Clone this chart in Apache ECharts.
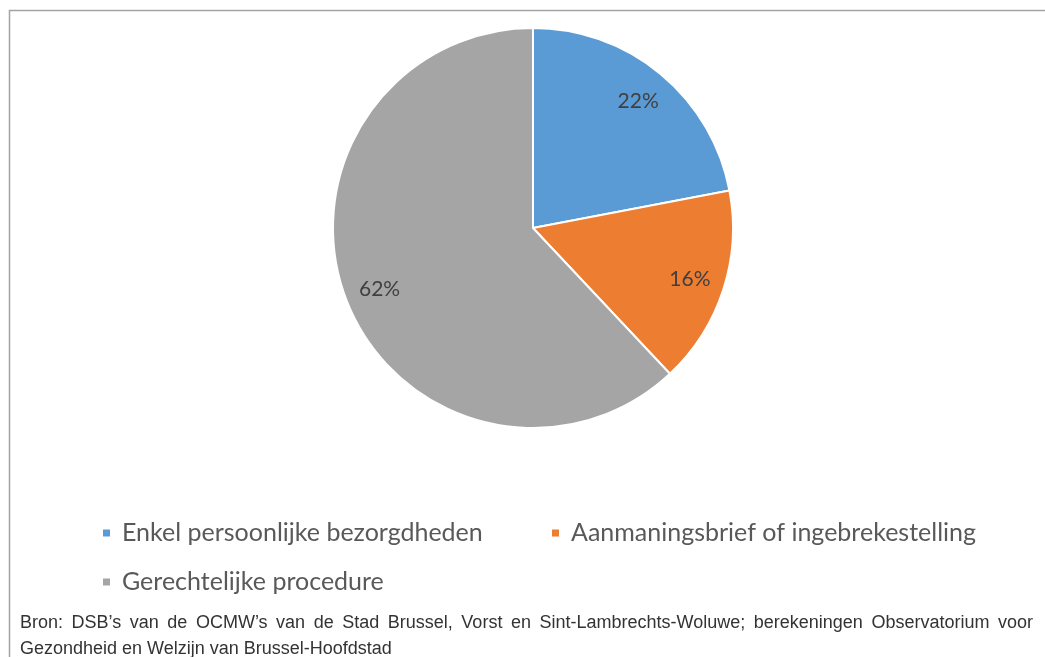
<!DOCTYPE html>
<html>
<head>
<meta charset="utf-8">
<script src="https://cdn.jsdelivr.net/npm/echarts@6/dist/echarts.min.js"></script>
<style>
  html, body { margin: 0; padding: 0; background: #fff; }
  #chart { position: absolute; left: 0; top: 0; width: 1045px; height: 657px; }
  #bron {
    position: absolute; left: 20px; top: 609px; width: 1013px;
    font-family: "Liberation Sans", Arial, sans-serif; font-size: 18px;
    line-height: 26px; color: #333;
  }
  #bron .l1 { text-align: justify; text-align-last: justify; }
</style>
</head>
<body>
<div id="chart"></div>
<div id="bron">
  <div class="l1">Bron: DSB’s van de OCMW’s van de Stad Brussel, Vorst en Sint-Lambrechts-Woluwe; berekeningen Observatorium voor</div>
  <div>Gezondheid en Welzijn van Brussel-Hoofdstad</div>
</div>
<script>
// categorieen en aandelen (%)
var categories = ['Enkel persoonlijke bezorgdheden', 'Aanmaningsbrief of ingebrekestelling', 'Gerechtelijke procedure']
var shares = [22, 16, 62]
var colors = ['#5B9BD5', '#ED7D31', '#A5A5A5']

var pieData = categories.map(function (name, i) {
  return { name: name, value: shares[i], itemStyle: { color: colors[i] } }
})

var legendText = {
  fontFamily: 'Lato, "Open Sans", sans-serif',
  fontSize: 25,
  color: '#595959',
  lineHeight: 30,
  padding: [0, 0, 0, 6]
}

function legendAt(name, left, top) {
  return {
    data: [name],
    left: left,
    top: top,
    icon: 'rect',
    itemWidth: 9,
    itemHeight: 9,
    selectedMode: false,
    textStyle: legendText
  }
}

var chart = echarts.init(document.getElementById('chart'))
chart.setOption({
  animation: false,
  legend: [
    legendAt(categories[0], 96, 513),
    legendAt(categories[1], 545, 513),
    legendAt(categories[2], 96, 562)
  ],
  graphic: [{
    type: 'polyline',
    shape: { points: [[9.5, 657], [9.5, 10.5], [1045, 10.5]] },
    style: { stroke: '#a3a3a3', lineWidth: 1.5, fill: null }
  }],
  series: [{
    type: 'pie',
    center: [533, 228],
    radius: [0, 200],
    startAngle: 90,
    data: pieData,
    label: { show: false },
    labelLine: { show: false },
    itemStyle: { borderColor: '#fff', borderWidth: 2 },
    emphasis: { disabled: true }
  }, {
    // alleen voor de labels, op ca. 0.8 van de straal
    type: 'pie',
    center: [533, 228],
    radius: [124, 200],
    startAngle: 90,
    silent: true,
    data: categories.map(function (name, i) { return { name: name, value: shares[i] } }),
    itemStyle: { color: 'rgba(0,0,0,0)' },
    label: {
      show: true,
      position: 'inside',
      formatter: '{c}%',
      fontFamily: 'Lato, "Open Sans", sans-serif',
      fontSize: 21,
      color: '#404040'
    },
    labelLine: { show: false },
    emphasis: { disabled: true }
  }]
})
</script>
</body>
</html>
